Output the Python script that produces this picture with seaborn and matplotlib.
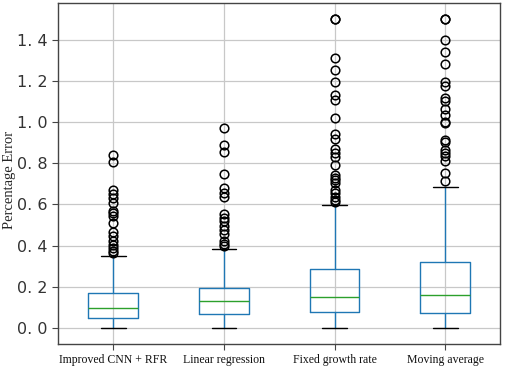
import matplotlib
matplotlib.use("Agg")
import matplotlib.pyplot as plt
import seaborn as sns

# 박스플롯 통계값
methods = ["Improved CNN + RFR", "Linear regression", "Fixed growth rate", "Moving average"]
q1 = [0.046, 0.065, 0.076, 0.073]
median = [0.097, 0.129, 0.152, 0.160]
q3 = [0.169, 0.195, 0.286, 0.321]
whisker_low = [0.0, 0.0, 0.0, 0.0]
whisker_high = [0.350, 0.381, 0.596, 0.682]

fliers_cnn = [0.840, 0.808, 0.672, 0.651, 0.630, 0.607, 0.569, 0.556, 0.542,
              0.509, 0.464, 0.444, 0.420, 0.404, 0.389, 0.372, 0.362]
fliers_lr = [0.970, 0.887, 0.854, 0.745, 0.677, 0.657, 0.638, 0.551, 0.535,
             0.518, 0.496, 0.473, 0.457, 0.421, 0.408, 0.396]
fliers_fgr = [1.50, 1.50, 1.310, 1.252, 1.193, 1.132, 1.109, 1.019, 0.941, 0.919,
              0.867, 0.848, 0.828, 0.790, 0.741, 0.728, 0.716, 0.702, 0.670,
              0.657, 0.638, 0.619, 0.609]
fliers_ma = [1.50, 1.50, 1.400, 1.342, 1.281, 1.193, 1.177, 1.116, 1.100, 1.061,
             1.032, 1.000, 0.993, 0.912, 0.903, 0.864, 0.851, 0.835, 0.812,
             0.751, 0.712]

y_ticks = [0.0, 0.2, 0.4, 0.6, 0.8, 1.0, 1.2, 1.4]
y_tick_labels = ["0. 0", "0. 2", "0. 4", "0. 6", "0. 8", "1. 0", "1. 2", "1. 4"]

sns.set_style("whitegrid", {"axes.edgecolor": "#444444", "grid.color": "#c8c8c8"})

all_fliers = [fliers_cnn, fliers_lr, fliers_fgr, fliers_ma]
stats = []
for i, name in enumerate(methods):
    stats.append({
        "label": name,
        "q1": q1[i], "med": median[i], "q3": q3[i],
        "whislo": whisker_low[i], "whishi": whisker_high[i],
        "fliers": all_fliers[i],
    })

fig = plt.figure(figsize=(5.05, 3.71), dpi=100)
ax = fig.add_axes([0.115, 0.073, 0.876, 0.919])

c_blue = "#1f77b4"
ax.bxp(stats, widths=0.45, patch_artist=False,
       boxprops=dict(color=c_blue, linewidth=1.0),
       whiskerprops=dict(color=c_blue, linewidth=1.0),
       capprops=dict(color="black", linewidth=1.0),
       medianprops=dict(color="#2ca02c", linewidth=1.0),
       flierprops=dict(marker="o", markerfacecolor="none", markeredgecolor="black",
                       markersize=6.2, markeredgewidth=1.1))

ax.set_xlim(0.5, 4.5)
ax.set_ylim(-0.078, 1.578)
ax.set_yticks(y_ticks)
ax.set_yticklabels(y_tick_labels, fontsize=11.5, family="DejaVu Sans", color="#333333")
ax.set_xticklabels(methods, fontsize=8.5, family="Liberation Serif", color="#111111")
ax.set_ylabel("Percentage Error", fontsize=10.5, family="Liberation Serif")
ax.yaxis.set_label_coords(-0.094, 0.48)
ax.grid(True, color="#c8c8c8", linewidth=0.9)
ax.tick_params(axis="both", length=4, width=0.8, color="#444444", left=True, bottom=True)
for sp in ax.spines.values():
    sp.set_linewidth(1.0)

fig.savefig("out.png", dpi=100)
